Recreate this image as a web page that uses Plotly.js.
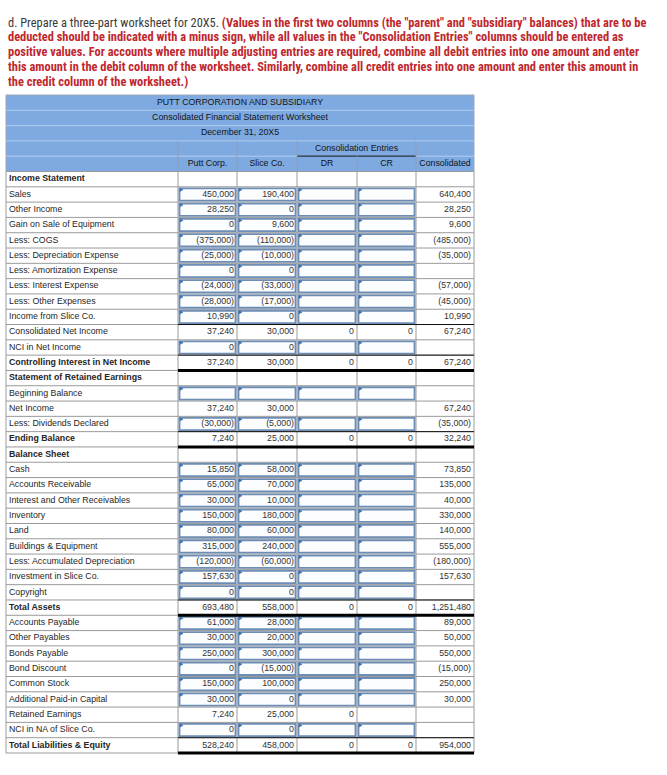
<!DOCTYPE html>
<html><head><meta charset="utf-8">
<script src="https://cdn.plot.ly/plotly-3.0.1.min.js"></script>
<style>html,body{margin:0;padding:0;background:#fff;} #chart{width:667px;height:775px;}</style>
</head><body><div id="chart"></div>
<script>
// ---------- DATA ----------
const notePrefix = "d. Prepare a three-part worksheet for 20X5. ";
const noteLines = [
  "(Values in the first two columns (the \"parent\" and \"subsidiary\" balances) that are to be",
  "deducted should be indicated with a minus sign, while all values in the \"Consolidation Entries\" columns should be entered as",
  "positive values. For accounts where multiple adjusting entries are required, combine all debit entries into one amount and enter",
  "this amount in the debit column of the worksheet. Similarly, combine all credit entries into one amount and enter this amount in",
  "the credit column of the worksheet.)"
];
const headerTitles = ["PUTT CORPORATION AND SUBSIDIARY", "Consolidated Financial Statement Worksheet", "December 31, 20X5"];
const groupHeader = "Consolidation Entries";
const columnHeaders = ["Putt Corp.", "Slice Co.", "DR", "CR", "Consolidated"];
const labels = [
  "Income Statement", "Sales", "Other Income", "Gain on Sale of Equipment", "Less: COGS",
  "Less: Depreciation Expense", "Less: Amortization Expense", "Less: Interest Expense", "Less: Other Expenses",
  "Income from Slice Co.", "Consolidated Net Income", "NCI in Net Income", "Controlling Interest in Net Income",
  "Statement of Retained Earnings", "Beginning Balance", "Net Income", "Less: Dividends Declared", "Ending Balance",
  "Balance Sheet", "Cash", "Accounts Receivable", "Interest and Other Receivables", "Inventory", "Land",
  "Buildings & Equipment", "Less: Accumulated Depreciation", "Investment in Slice Co.", "Copyright", "Total Assets",
  "Accounts Payable", "Other Payables", "Bonds Payable", "Bond Discount", "Common Stock", "Additional Paid-in Capital",
  "Retained Earnings", "NCI in NA of Slice Co.", "Total Liabilities & Equity"
];
const boldRows = [0, 12, 13, 17, 18, 28, 37];
const putt = [null, 450000, 28250, 0, -375000, -25000, 0, -24000, -28000, 10990, 37240, 0, 37240,
  null, null, 37240, -30000, 7240, null, 15850, 65000, 30000, 150000, 80000, 315000, -120000, 157630, 0, 693480,
  61000, 30000, 250000, 0, 150000, 30000, 7240, 0, 528240];
const slice = [null, 190400, 0, 9600, -110000, -10000, 0, -33000, -17000, 0, 30000, 0, 30000,
  null, null, 30000, -5000, 25000, null, 58000, 70000, 10000, 180000, 60000, 240000, -60000, 0, 0, 558000,
  28000, 20000, 300000, -15000, 100000, 0, 25000, 0, 458000];
const dr = [null, null, null, null, null, null, null, null, null, null, 0, null, 0,
  null, null, null, null, 0, null, null, null, null, null, null, null, null, null, null, 0,
  null, null, null, null, null, null, 0, null, 0];
const cr = [null, null, null, null, null, null, null, null, null, null, 0, null, 0,
  null, null, null, null, 0, null, null, null, null, null, null, null, null, null, null, 0,
  null, null, null, null, null, null, null, null, 0];
const consolidated = [null, 640400, 28250, 9600, -485000, -35000, null, -57000, -45000, 10990, 67240, null, 67240,
  null, null, 67240, -35000, 32240, null, 73850, 135000, 40000, 330000, 140000, 555000, -180000, 157630, null, 1251480,
  89000, 50000, 550000, -15000, 250000, 30000, null, null, 954000];
const inputRows = [1, 2, 3, 4, 5, 6, 7, 8, 9, 11, 14, 16, 19, 20, 21, 22, 23, 24, 25, 26, 27, 29, 30, 31, 32, 33, 34, 36];
const totalRows = [12, 17, 28, 37];
const subtotalRows = [10, 12, 17, 28, 37];

// ---------- LAYOUT CONSTANTS ----------
const colEdges = [6, 178, 237, 297, 357, 416, 474];
const tableTop = 95, tableBottom = 753;
const nHeader = 5;
const nRows = nHeader + labels.length;
const rowH = (tableBottom - tableTop) / nRows;
const rTop = i => tableTop + i * rowH;            // global row index
const rMid = i => tableTop + (i + 0.5) * rowH;
const bodyTop = i => rTop(i + nHeader);
const bodyMid = i => rMid(i + nHeader);

const fmt = v => {
  if (v === null || v === undefined) return "";
  const s = Math.abs(v).toLocaleString("en-US");
  return v < 0 ? "(" + s + ")" : s;
};

const shapes = [];
const line = (x0, y0, x1, y1, color, width) => shapes.push({type: "line", xref: "x", yref: "y", x0, y0, x1, y1,
  line: {color, width}, layer: "below"});

// header fill
shapes.push({type: "rect", xref: "x", yref: "y", x0: colEdges[0], x1: colEdges[6], y0: rTop(0), y1: rTop(nHeader),
  fillcolor: "#7eaae1", line: {width: 0}, layer: "below"});
// header horizontal separators
for (let i = 1; i < nHeader; i++) line(colEdges[0], rTop(i), colEdges[6], rTop(i), "#b4cdee", 1);
// dark line under "Consolidation Entries"
line(colEdges[3], rTop(4), colEdges[5], rTop(4), "#1f2a36", 1.3);
// header vertical separators in rows 3-4
[1, 2, 3, 5].forEach(c => line(colEdges[c], rTop(3), colEdges[c], rTop(5), "#8e9fb5", 1));
line(colEdges[4], rTop(4), colEdges[4], rTop(5), "#8e9fb5", 1);
// header outer border
shapes.push({type: "rect", xref: "x", yref: "y", x0: colEdges[0], x1: colEdges[6], y0: rTop(0), y1: rTop(nHeader),
  line: {color: "#9aa7b8", width: 1}, layer: "below"});

// body grid
for (let i = 0; i <= labels.length; i++) line(colEdges[0], bodyTop(i), colEdges[6], bodyTop(i), "#9a9a9a", 1);
colEdges.forEach(x => line(x, bodyTop(0), x, bodyTop(labels.length), "#9a9a9a", 1));

// input boxes + flags
inputRows.forEach(r => {
  for (let c = 1; c <= 4; c++) {
    const x0 = colEdges[c] + 1.5, x1 = colEdges[c + 1] - 1.5;
    const y0 = bodyTop(r) + 1.5, y1 = bodyTop(r + 1) - 1.5;
    shapes.push({type: "rect", xref: "x", yref: "y", x0, x1, y0, y1, fillcolor: "#fcfdff",
      line: {color: "#6d8db4", width: 1.8}, layer: "below"});
    shapes.push({type: "path", xref: "x", yref: "y",
      path: `M ${x0 + 0.5} ${y0} L ${x0 + 3.5} ${y0 + 1.5} L ${x0 + 0.5} ${y0 + 3} Z`,
      fillcolor: "#3d6fb6", line: {color: "#3d6fb6", width: 0.6}, layer: "below"});
  }
});
// subtotal lines
subtotalRows.forEach(r => line(colEdges[1], bodyTop(r), colEdges[6], bodyTop(r), "#111", 1));
totalRows.forEach(r => line(colEdges[1], bodyTop(r + 1), colEdges[6], bodyTop(r + 1), "#000", 3));

// ---------- TRACES ----------
const baseFont = {family: "Liberation Sans, Arial, sans-serif", size: 8.8, color: "#262626"};
const traces = [];
const ys = labels.map((_, i) => bodyMid(i));
traces.push({type: "scatter", mode: "text", x: labels.map(() => colEdges[0] + 3), y: ys,
  text: labels.map((l, i) => boldRows.includes(i) ? "<b>" + l + "</b>" : l),
  textposition: "middle right", textfont: baseFont, hoverinfo: "skip", cliponaxis: false});
[putt, slice, dr, cr, consolidated].forEach((arr, k) => {
  traces.push({type: "scatter", mode: "text", x: arr.map(() => colEdges[k + 2] - 3), y: ys,
    text: arr.map(fmt), textposition: "middle left",
    textfont: {family: baseFont.family, size: 8.8, color: "#333"}, hoverinfo: "skip", cliponaxis: false});
});
const hdrFont = {family: baseFont.family, size: 8.8, color: "#141414"};
traces.push({type: "scatter", mode: "text",
  x: headerTitles.map(() => (colEdges[0] + colEdges[6]) / 2), y: headerTitles.map((_, i) => rMid(i)),
  text: headerTitles, textposition: "middle center", textfont: hdrFont, hoverinfo: "skip", cliponaxis: false});
traces.push({type: "scatter", mode: "text", x: [(colEdges[3] + colEdges[5]) / 2], y: [rMid(3)],
  text: [groupHeader], textposition: "middle center", textfont: hdrFont, hoverinfo: "skip", cliponaxis: false});
traces.push({type: "scatter", mode: "text",
  x: columnHeaders.map((_, k) => (colEdges[k + 1] + colEdges[k + 2]) / 2), y: columnHeaders.map(() => rMid(4)),
  text: columnHeaders, textposition: "middle center", textfont: hdrFont, hoverinfo: "skip", cliponaxis: false});

// ---------- NOTE ----------
const noteFont = {family: "Liberation Sans Narrow, Roboto Condensed, Liberation Sans, sans-serif", size: 12.4, color: "#c0272d"};
const annotations = noteLines.map((t, i) => ({
  xref: "x", yref: "y", x: 6, y: 22 + i * 14.9, xanchor: "left", yanchor: "middle", showarrow: false,
  text: (i === 0 ? "<span style='color:#3a3a3a;font-weight:normal'>" + notePrefix + "</span>" : "") + "<b>" + t + "</b>",
  font: noteFont, align: "left"
}));

const layout = {
  width: 667, height: 775, margin: {l: 0, r: 0, t: 0, b: 0},
  paper_bgcolor: "#ffffff", plot_bgcolor: "#ffffff", showlegend: false,
  xaxis: {range: [0, 667], visible: false, fixedrange: true},
  yaxis: {range: [775, 0], visible: false, fixedrange: true},
  shapes, annotations
};
Plotly.newPlot("chart", traces, layout, {staticPlot: true, displayModeBar: false});
</script></body></html>
